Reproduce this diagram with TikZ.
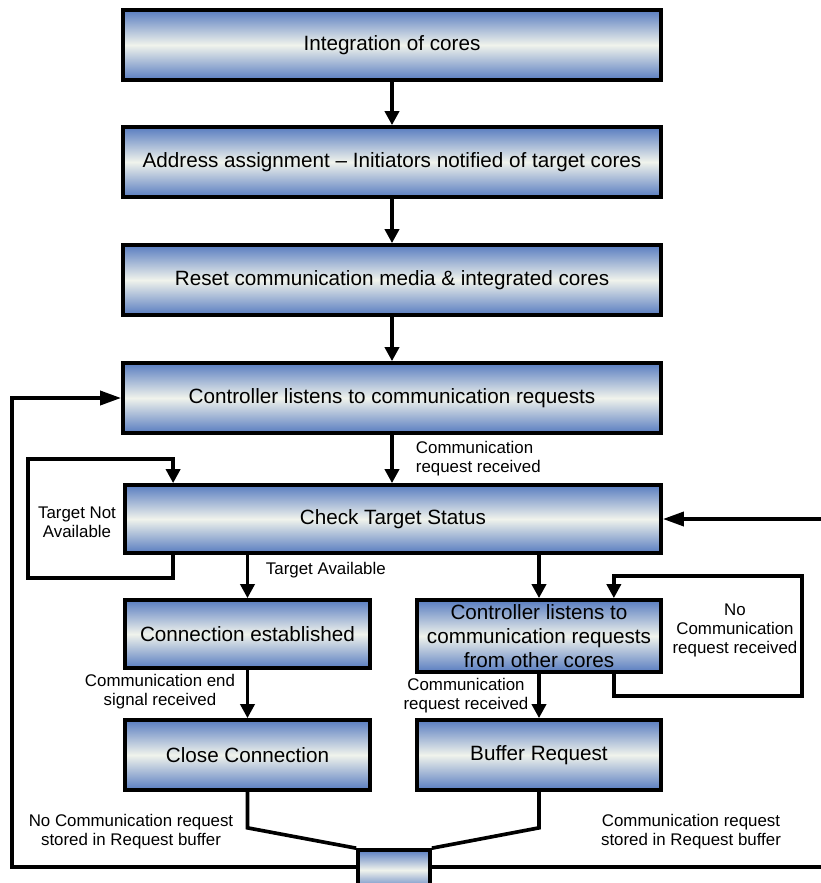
\documentclass[tikz,border=0pt]{standalone}
\usepackage{fontspec}
\setmainfont{Liberation Sans}
\usetikzlibrary{arrows.meta,positioning}
\definecolor{boxblue}{RGB}{88,124,192}
\definecolor{boxlight}{RGB}{240,243,236}

\begin{document}
\begin{tikzpicture}[x=0.025cm, y=-0.025cm,
  every node/.style={font=\fontsize{12}{13.5}\selectfont, align=center},
  stage/.style={rectangle, draw, line width=2.6pt, top color=boxblue, bottom color=boxblue, middle color=boxlight, font=\fontsize{14.7}{17}\selectfont, inner sep=0pt},
  wide/.style={stage, minimum width=13.45cm, minimum height=1.75cm},
  half/.style={stage, minimum width=6.1cm, minimum height=1.75cm},
  line/.style={line width=2.6pt},
  arr/.style={line width=2.6pt, -{Triangle[length=10pt,width=10pt]}},
  longarr/.style={line width=2.6pt, -{Triangle[length=15pt,width=10pt]}}]
  \useasboundingbox (0,0) rectangle (821,883);

  \node[wide] (a) at (392,45) {Integration of cores};
  \node[wide] (b) at (392,162) {Address assignment – Initiators notified of target cores};
  \node[wide] (c) at (392,280) {Reset communication media \& integrated cores};
  \node[wide] (d) at (392,398) {Controller listens to communication requests};
  \node[wide, minimum width=13.4cm, minimum height=1.7cm] (e) at (393,519) {Check Target Status};
  \node[half, minimum width=6.125cm, minimum height=1.7cm] (f) at (247.5,634) {Connection established};
  \node[half, minimum height=1.8cm] (g) at (539,636) {Controller listens to\\communication requests\\from other cores};
  \node[half, minimum width=6.125cm] (h) at (247.5,755) {Close Connection};
  \node[half] (i) at (539,755) {Buffer Request};

  \coordinate (l1) at (28,578);
  \coordinate (l2) at (28,459);
  \coordinate (r1) at (802,696);
  \coordinate (r2) at (802,576);
  \coordinate (bl) at (12,867);
  \coordinate (br) at (821,867);
  \coordinate (rin) at (821,519);

  \draw[arr] (a) -- (b);
  \draw[arr] (b) -- (c);
  \draw[arr] (c) -- (d);
  \draw[arr] (d.south) -- (d.south |- e.north);
  \draw[arr] (f.north |- e.south) -- (f.north);
  \draw[arr] (g.north |- e.south) -- (g.north);
  \draw[arr] (f) -- (h);
  \draw[arr] (g) -- (i);

  \draw[arr] ([xshift=1.25cm]e.south west) |- (l1) -- (l2) -| ([xshift=1.25cm]e.north west);
  \draw[arr] ([xshift=-1.225cm]g.south east) |- (r1) -- (r2) -| ([xshift=-1.225cm]g.north east);

  \draw[longarr] (br) -- (bl) |- (d.west);
  \draw[longarr] (rin) -- (e.east);

  \node[stage, minimum width=1.8cm, minimum height=1cm] (m) at (394,870) {};
  \draw[line] (h.south) -- ++(0,36) -- (m.north west);
  \draw[line] (i.south) -- ++(0,36) -- (m.north east);

  \node[anchor=west, align=left] (t1) at (411,459) {Communication\\request received};
  \node (t2) at (77,522) {Target Not\\Available};
  \node[anchor=west] (t3) at (261,570) {Target Available};
  \node (t4) at (735,630) {No\\Communication\\request received};
  \node (t5) at (160,692) {Communication end\\signal received};
  \node (t6) at (466,696) {Communication\\request received};
  \node (t7) at (131,832) {No Communication request\\stored in Request buffer};
  \node (t8) at (691,832) {Communication request\\stored in Request buffer};
\end{tikzpicture}
\end{document}
